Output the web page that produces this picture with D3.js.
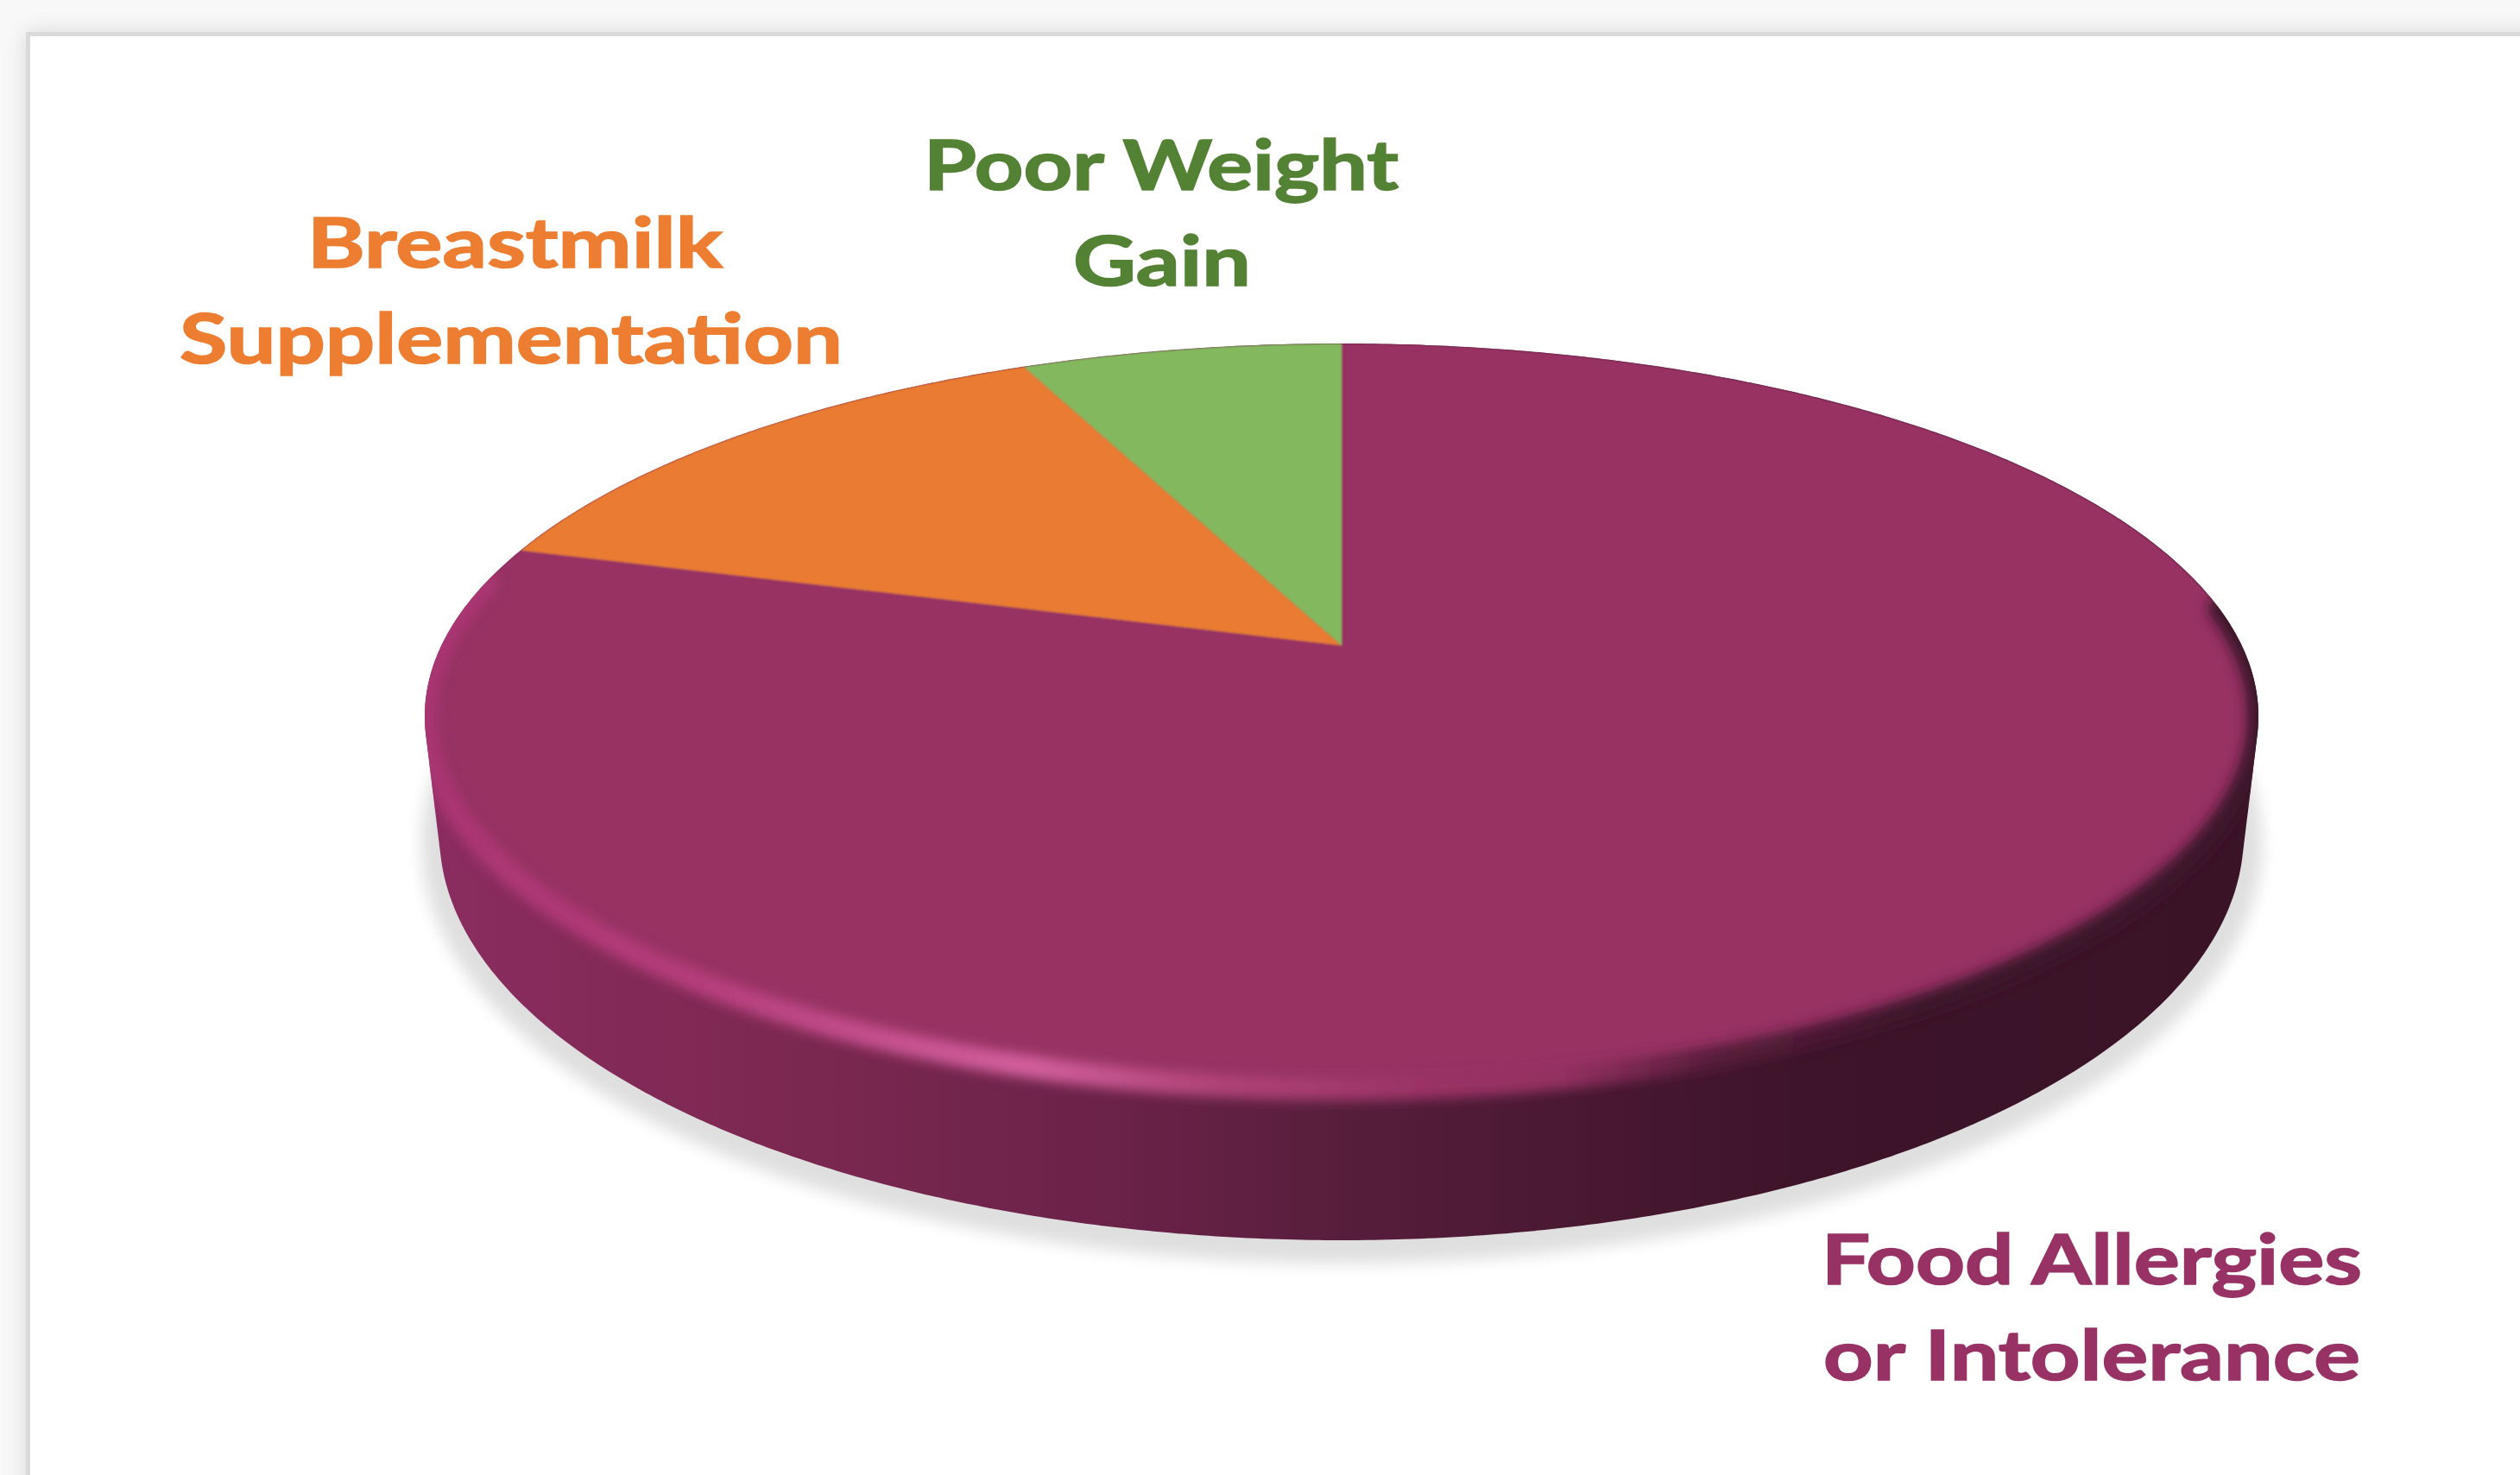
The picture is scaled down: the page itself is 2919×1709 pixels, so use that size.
<!DOCTYPE html>
<html>
<head>
<meta charset="utf-8">
<style>html,body{margin:0;padding:0;background:#f8f8f8;overflow:hidden}svg{display:block}</style>
<script src="https://cdn.jsdelivr.net/npm/d3@7"></script>
</head>
<body>
<svg id="chart" width="2919" height="1709"></svg>
<script>
const categories = ["Food Allergies or Intolerance", "Breastmilk Supplementation", "Poor Weight Gain"];
const values = [79.5, 13.7, 6.8];
const faceColors = ["#973163", "#e97c30", "#84b85f"];
const labelColors = ["#983265", "#ed7d31", "#548235"];
const labelLines = [["Food Allergies", "or Intolerance"], ["Breastmilk", "Supplementation"], ["Poor Weight", "Gain"]];

const svg = d3.select("#chart");
const defs = svg.append("defs");

function blur(id, sd) {
  defs.append("filter").attr("id", id)
    .attr("x", "-5%").attr("y", "-10%").attr("width", "110%").attr("height", "120%")
    .append("feGaussianBlur").attr("stdDeviation", sd);
}
blur("b1", 1.3); blur("b7", 7); blur("b9", 9); blur("b12", 12);

function gradient(id, x1, x2, stops) {
  const g = defs.append("linearGradient").attr("id", id)
    .attr("gradientUnits", "userSpaceOnUse")
    .attr("x1", x1).attr("x2", x2).attr("y1", 0).attr("y2", 0);
  stops.forEach(s => g.append("stop").attr("offset", s[0]).attr("stop-color", s[1]));
}
gradient("sideGrad", 509, 2599, [
  [0, "#8a2c5f"], [0.2, "#7b2850"], [0.38, "#6a2248"], [0.5, "#571e3b"],
  [0.62, "#4a1932"], [0.76, "#3d1429"], [1, "#3a1327"]
]);
gradient("rimGrad", 491, 2616, [
  [0, "#a93572"], [0.14, "#b43c7a"], [0.33, "#d2609e"], [0.43, "#b04478"],
  [0.55, "#9a3265"], [0.62, "#933060"], [0.7, "#5a1d3c"], [0.82, "#3c1429"], [1, "#3c1429"]
]);

// Card frame behind the chart
const page = svg.append("g");
page.append("rect").attr("width", 2919).attr("height", 1709).attr("fill", "#f8f8f8");
page.append("rect").attr("x", 30).attr("y", 37).attr("width", 2960).attr("height", 1760)
  .attr("fill", "#d8d8d8").attr("filter", "url(#b12)");
page.append("rect").attr("x", 30).attr("y", 37).attr("width", 2960).attr("height", 1760).attr("fill", "#dadada");
page.append("rect").attr("x", 35).attr("y", 42).attr("width", 2960).attr("height", 1760).attr("fill", "#ffffff");

// Perspective projection of the unit disc on to the picture
const cx = 1554, apexY = 748, topY = 398, botY = 1262, rx = 1062;
const c = (2 * apexY - topY - botY) / (botY - topY);
const a = (apexY - topY) + topY * c;
const k = rx * Math.sqrt(1 - c * c);
function project(angle, r) {
  const u = r * Math.sin(angle), v = -r * Math.cos(angle), w = 1 + c * v;
  return [cx + k * u / w, (a * v + apexY) / w];
}
// Base of the disc: a plain ellipse lower down
const base = {cx: 1554, cy: 967, rx: 1045, ry: 470};
const basePt = t => [base.cx + base.rx * Math.sin(t), base.cy - base.ry * Math.cos(t)];

const line = d3.line();
const full = d3.range(0, 2 * Math.PI, Math.PI / 360);
const hull = d3.polygonHull(full.map(t => project(t, 1)).concat(full.map(basePt)));

defs.append("clipPath").attr("id", "solid").append("path").attr("d", line(hull) + "Z");

// Ground shadow
svg.append("ellipse")
  .attr("cx", 1554).attr("cy", 978).attr("rx", 1066).attr("ry", 486)
  .attr("fill", "#dfdfdf").attr("filter", "url(#b9)");

// Side wall
svg.append("path").attr("d", line(hull) + "Z").attr("fill", "url(#sideGrad)");

// Top face slices
const pie = d3.pie().sort(null).value(d => d)(values);
const faces = svg.append("g").attr("clip-path", "url(#solid)").append("g").attr("filter", "url(#b1)");
faces.selectAll("path").data(pie).join("path")
  .attr("fill", (d, i) => faceColors[i])
  .attr("d", d => {
    const n = Math.max(2, Math.ceil((d.endAngle - d.startAngle) / (Math.PI / 360)));
    const arc = d3.range(n + 1).map(i => project(d.startAngle + (d.endAngle - d.startAngle) * i / n, 1));
    return line([project(0, 0)].concat(arc)) + "Z";
  });

// Rim light and shade around the near edge of the face
const rimAngles = d3.range(84, 281, 0.5).map(deg => deg * Math.PI / 180);
svg.append("g").attr("clip-path", "url(#solid)").append("path")
  .attr("d", line(rimAngles.map(t => project(t, 1))))
  .attr("fill", "none").attr("stroke", "url(#rimGrad)").attr("stroke-width", 26)
  .attr("stroke-linecap", "round").attr("filter", "url(#b7)");

// Labels
const labelLayout = [
  [[2110, 1488, 626], [2112, 1599, 622]],
  [[356, 310, 481], [208, 421, 768]],
  [[1070, 220, 550], [1243, 331, 206]]
];
const labels = svg.append("g")
  .attr("font-family", "Lato, Carlito, 'Open Sans', sans-serif")
  .attr("font-weight", 700).attr("font-size", 81)
  .attr("stroke-width", 1.6).attr("paint-order", "stroke");
labelLines.forEach((lines, i) => lines.forEach((txt, j) => {
  const p = labelLayout[i][j];
  labels.append("text").text(txt)
    .attr("x", p[0]).attr("y", p[1])
    .attr("textLength", p[2]).attr("lengthAdjust", "spacingAndGlyphs")
    .attr("fill", labelColors[i]).attr("stroke", labelColors[i]);
}));
</script>
</body>
</html>
